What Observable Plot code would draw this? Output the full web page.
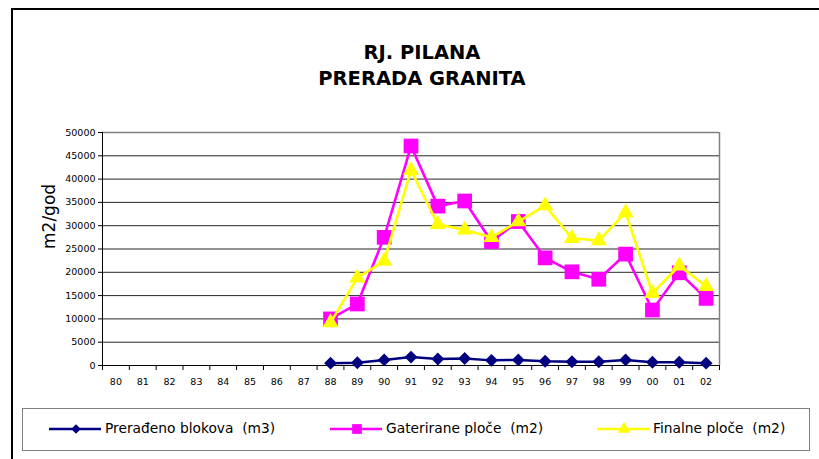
<!DOCTYPE html>
<html>
<head>
<meta charset="utf-8">
<script src="https://cdn.jsdelivr.net/npm/d3@7"></script>
<script src="https://cdn.jsdelivr.net/npm/@observablehq/plot@0.6"></script>
<style>
  html, body { margin: 0; padding: 0; background: #fff; }
  #wrap { position: relative; width: 819px; height: 459px; overflow: hidden; font-family: "DejaVu Sans", sans-serif; }
  #frame { position: absolute; left: 11px; top: 8px; width: 900px; height: 600px; border-left: 2px solid #000; border-top: 2px solid #000; }
  #title { position: absolute; left: 0; top: 40px; width: 844px; text-align: center; font-weight: bold; font-size: 19.5px; line-height: 26px; color: #000; }
  #chart { position: absolute; left: 0; top: 0; }
  #legend { position: absolute; left: 22px; top: 408px; width: 786px; height: 41px; border: 1px solid #808080; background: #fff; }
  .item { position: absolute; top: 0; height: 41px; }
  .item svg { position: absolute; top: 0; left: 0; }
  .item span { position: absolute; top: 11px; white-space: pre; font-size: 13.8px; color: #000; }
</style>
</head>
<body>
<div id="wrap">
  <div id="frame"></div>
  <div id="title">RJ. PILANA<br>PRERADA GRANITA</div>
  <div id="chart"></div>
  <div id="legend"></div>
</div>
<script>
// Category (year) tick labels
const years = ["80","81","82","83","84","85","86","87","88","89","90","91","92","93","94","95","96","97","98","99","00","01","02"];
// Years that have data
const dataYears = ["88","89","90","91","92","93","94","95","96","97","98","99","00","01","02"];
// Series values
const preradjenoBlokova = [500, 600, 1200, 1800, 1400, 1500, 1100, 1200, 900, 800, 800, 1200, 700, 700, 500];
const gateriranePloce = [10000, 13200, 27500, 47100, 34200, 35300, 26600, 30900, 23100, 20100, 18500, 23900, 11900, 19900, 14400];
const finalnePloce = [9200, 18800, 22400, 41900, 30300, 29100, 27500, 30900, 34300, 27300, 26800, 32800, 15500, 21400, 17000];
const seriesNames = ["Prerađeno blokova  (m3)", "Gaterirane ploče  (m2)", "Finalne ploče  (m2)"];
const yTicks = [0, 5000, 10000, 15000, 20000, 25000, 30000, 35000, 40000, 45000, 50000];

const colors = ["#000080", "#FF00FF", "#FFFF00"];
const symbols = ["diamond2", "square", "triangle"];
const radii = [5.8, 8.3, 6.0];
const allSeries = [preradjenoBlokova, gateriranePloce, finalnePloce];

const rows = allSeries.map((vals, s) => dataYears.map((yr, i) => ({ year: yr, idx: years.indexOf(yr), value: vals[i], series: seriesNames[s] })));

const boundaries = d3.range(years.length + 1).map(i => i - 0.5);

const seriesMarks = rows.flatMap((data, s) => [
  Plot.line(data, { x: "idx", y: "value", stroke: colors[s], strokeWidth: s === 0 ? 2.5 : 2.6 }),
  Plot.dot(data, { x: "idx", y: "value", symbol: () => symbols[s], fill: colors[s], stroke: "none", r: radii[s] })
]);

const chart = Plot.plot({
  width: 819,
  height: 459,
  marginLeft: 102,
  marginRight: 100,
  marginTop: 132,
  marginBottom: 94,
  style: { fontFamily: "DejaVu Sans, sans-serif", background: "transparent", overflow: "visible" },
  x: { domain: [-0.5, years.length - 0.5], axis: null, label: null },
  y: { domain: [0, 50000], axis: null, label: null },
  symbol: { type: "identity" },
  marks: [
    Plot.gridY(yTicks, { stroke: "#000", strokeOpacity: 0.85, strokeWidth: 1 }),
    Plot.ruleX([years.length - 0.5], { stroke: "#808080", strokeWidth: 1.5 }),
    Plot.ruleY([50000], { stroke: "#808080", strokeWidth: 1.5 }),
    Plot.ruleX([-0.5], { stroke: "#000", strokeWidth: 1 }),
    Plot.ruleY([0], { stroke: "#000", strokeWidth: 1 }),
    Plot.axisY(yTicks, { label: null, tickSize: 4, tickPadding: 3, tickFormat: d => String(d), fontSize: 9.5, stroke: "#000", fill: "#000" }),
    Plot.axisX(boundaries, { label: null, tickSize: 5, tickFormat: () => "", stroke: "#000" }),
    Plot.axisX(d3.range(years.length), { label: null, tickSize: 0, tickPadding: 13, tickFormat: i => years[i], fontSize: 9.5, fill: "#000" }),
    Plot.text(["m2/god"], { frameAnchor: "left", rotate: -90, dx: -53, fontSize: 17, fill: "#000" }),
    ...seriesMarks
  ]
});
document.getElementById("chart").appendChild(chart);

// Legend
const legend = d3.select("#legend");
const legendPos = [26, 307, 574];
const legendSym = [
  d3.symbol(d3.symbolDiamond2, 60),
  d3.symbol(d3.symbolSquare, 95),
  d3.symbol(d3.symbolTriangle, 70)
];
seriesNames.forEach((name, s) => {
  const item = legend.append("div").attr("class", "item").style("left", legendPos[s] + "px").style("width", "260px");
  const svg = item.append("svg").attr("width", 60).attr("height", 41);
  svg.append("line").attr("x1", 0).attr("x2", 52).attr("y1", 20).attr("y2", 20).attr("stroke", colors[s]).attr("stroke-width", 2.5);
  svg.append("path").attr("d", legendSym[s]()).attr("transform", "translate(27,20)").attr("fill", colors[s]);
  item.append("span").style("left", "56px").text(name);
});
</script>
</body>
</html>
